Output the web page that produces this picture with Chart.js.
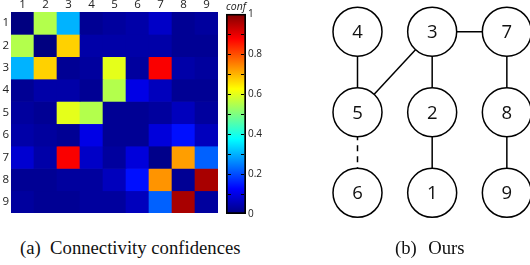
<!DOCTYPE html>
<html>
<head>
<meta charset="utf-8">
<script src="https://cdn.jsdelivr.net/npm/chart.js@4.4.1/dist/chart.umd.min.js"></script>
<style>
  body { margin: 0; background: #fff; width: 530px; height: 265px; overflow: hidden; position: relative; }
  .box { position: absolute; }
  .cap { position: absolute; font-family: "Liberation Serif", serif; font-size: 18.7px; color: #111; white-space: pre; line-height: 1; }
</style>
</head>
<body>
<div class="box" style="left:0;top:0;width:222px;height:222px"><canvas id="heat"></canvas></div>
<div class="box" style="left:218px;top:0;width:48px;height:222px"><canvas id="bar"></canvas></div>
<div class="box" style="left:300px;top:0;width:230px;height:225px"><canvas id="graph"></canvas></div>
<div class="cap" style="left:20px;top:239px">(a)  Connectivity confidences</div>
<div class="cap" style="left:395px;top:239px;word-spacing:1px">(b)  Ours</div>
<script>
// heatmap labels and values (row i, column j)
const colLabels = ['1','2','3','4','5','6','7','8','9'];
const rowLabels = ['1','2','3','4','5','6','7','8','9'];
const conf = [
  [0.00, 0.55, 0.30, 0.02, 0.03, 0.04, 0.07, 0.02, 0.03],
  [0.55, 0.00, 0.67, 0.04, 0.04, 0.04, 0.04, 0.02, 0.02],
  [0.30, 0.67, 0.02, 0.03, 0.60, 0.03, 0.88, 0.04, 0.03],
  [0.02, 0.04, 0.04, 0.02, 0.55, 0.10, 0.06, 0.02, 0.02],
  [0.03, 0.02, 0.60, 0.55, 0.02, 0.02, 0.03, 0.06, 0.03],
  [0.04, 0.03, 0.02, 0.10, 0.02, 0.02, 0.09, 0.14, 0.06],
  [0.08, 0.04, 0.88, 0.07, 0.03, 0.09, 0.01, 0.72, 0.22],
  [0.02, 0.02, 0.03, 0.03, 0.06, 0.14, 0.73, 0.02, 0.96],
  [0.03, 0.02, 0.02, 0.03, 0.03, 0.06, 0.22, 0.96, 0.03]
];
const barTicks = [0, 0.2, 0.4, 0.6, 0.8, 1];

// graph: node names, grid column / row, edges
const nodeNames = ['4','3','7','5','2','8','6','1','9'];
const nodeCol   = [0, 1, 2, 0, 1, 2, 0, 1, 2];
const nodeRow   = [0, 0, 0, 1, 1, 1, 2, 2, 2];
const edges = [['4','5'],['3','5'],['3','7'],['3','2'],['2','1'],['7','8'],['8','9']];
const dashedEdges = [['5','6']];

Chart.defaults.font.family = '"Open Sans", sans-serif';
Chart.defaults.color = '#222';

// jet colormap
function jet(v) {
  const c = x => Math.round(255 * Math.max(0, Math.min(1, x)));
  return 'rgb(' + c(1.5 - Math.abs(4*v - 3)) + ',' + c(1.5 - Math.abs(4*v - 2)) + ',' + c(1.5 - Math.abs(4*v - 1)) + ')';
}

new Chart(document.getElementById('heat'), {
  type: 'bar',
  data: {
    labels: colLabels,
    datasets: conf.map((row, i) => ({
      data: row.map(() => [i, i + 1]),
      backgroundColor: row.map(jet),
      borderWidth: 0
    }))
  },
  options: {
    responsive: true, maintainAspectRatio: false, animation: false, events: [],
    layout: { padding: { right: 4, bottom: 2 } },
    datasets: { bar: { grouped: false, barPercentage: 1, categoryPercentage: 1 } },
    plugins: { legend: { display: false }, tooltip: { enabled: false } },
    scales: {
      x: {
        position: 'top',
        grid: { display: false, drawTicks: false }, border: { display: false },
        ticks: { padding: 0, font: { size: 11.5 } },
        afterFit: s => { s.height = 12; }
      },
      y: {
        min: 0, max: 9, reverse: true,
        grid: { display: false, drawTicks: false }, border: { display: false },
        afterBuildTicks: s => { s.ticks = rowLabels.map((l, i) => ({ value: i + 0.5 })); },
        ticks: { padding: 2, autoSkip: false, font: { size: 11.5 }, callback: (v, i) => rowLabels[i] },
        afterFit: s => { s.width = 11; }
      }
    }
  }
});

// small tick marks inside the colour bar
const innerTicks = {
  id: 'innerTicks',
  afterDatasetsDraw(chart) {
    const ctx = chart.ctx, y = chart.scales.y, a = chart.chartArea;
    ctx.save();
    ctx.strokeStyle = '#000';
    ctx.lineWidth = 1;
    for (let k = 1; k < 10; k++) {
      const py = Math.round(y.getPixelForValue(k / 10)) + 0.5;
      ctx.beginPath();
      ctx.moveTo(a.left + 2, py); ctx.lineTo(a.left + 5, py);
      ctx.moveTo(a.right - 5, py); ctx.lineTo(a.right - 2, py);
      ctx.stroke();
    }
    ctx.restore();
  }
};

new Chart(document.getElementById('bar'), {
  type: 'bar',
  data: {
    labels: ['conf'],
    datasets: [{
      data: [[0, 1]],
      backgroundColor: ctx => {
        const ch = ctx.chart;
        if (!ch.chartArea) return '#000080';
        const y = ch.scales.y;
        const g = ch.ctx.createLinearGradient(0, y.getPixelForValue(0), 0, y.getPixelForValue(1));
        [0, 0.125, 0.375, 0.625, 0.875, 1].forEach(s => g.addColorStop(s, jet(s)));
        return g;
      },
      borderColor: '#000', borderWidth: 2, borderSkipped: false,
      barPercentage: 1, categoryPercentage: 1
    }]
  },
  options: {
    responsive: true, maintainAspectRatio: false, animation: false, events: [],
    layout: { padding: { left: 8, bottom: 2 } },
    plugins: {
      legend: { display: false }, tooltip: { enabled: false },
      title: { display: true, text: 'conf', fullSize: false, padding: 0, color: '#222', font: { size: 11.5, style: 'italic', weight: 'normal' } }
    },
    scales: {
      x: { display: false },
      y: {
        position: 'right', min: 0, max: 1,
        grid: { display: false, drawTicks: false }, border: { display: false },
        afterBuildTicks: s => { s.ticks = barTicks.map(v => ({ value: v })); },
        ticks: { padding: 2, font: { size: 10 }, callback: v => String(+v.toFixed(1)) },
        afterFit: s => { s.width = 20; }
      }
    }
  },
  plugins: [innerTicks]
});

const pos = name => { const i = nodeNames.indexOf(name); return { x: nodeCol[i], y: nodeRow[i] }; };
const edgeSet = (list, dash) => list.map(([a, b]) => ({
  type: 'line', data: [pos(a), pos(b)], borderColor: '#000', borderWidth: 1.5,
  borderDash: dash, pointRadius: 0, showLine: true, order: 2
}));

const nodeLabels = {
  id: 'nodeLabels',
  afterDatasetsDraw(chart) {
    const ctx = chart.ctx;
    const meta = chart.getDatasetMeta(0);
    ctx.save();
    ctx.fillStyle = '#111';
    ctx.font = '18.5px "Open Sans", sans-serif';
    ctx.textAlign = 'center';
    ctx.textBaseline = 'alphabetic';
    meta.data.forEach((p, i) => ctx.fillText(nodeNames[i], p.x, p.y + 6.6));
    ctx.restore();
  }
};

new Chart(document.getElementById('graph'), {
  type: 'scatter',
  data: {
    datasets: [
      {
        data: nodeNames.map((n, i) => ({ x: nodeCol[i], y: nodeRow[i] })),
        pointRadius: 24.5, pointBorderWidth: 1.5,
        pointBackgroundColor: '#fff', pointBorderColor: '#000', order: 0
      },
      ...edgeSet(edges, []),
      ...edgeSet(dashedEdges, [6, 5])
    ]
  },
  options: {
    responsive: true, maintainAspectRatio: false, animation: false, events: [],
    layout: { padding: 0, autoPadding: false },
    plugins: { legend: { display: false }, tooltip: { enabled: false } },
    scales: {
      x: { display: false, min: -0.77, max: 2.31 },
      y: { display: false, min: -0.394, max: 2.40, reverse: true }
    }
  },
  plugins: [nodeLabels]
});
</script>
</body>
</html>
